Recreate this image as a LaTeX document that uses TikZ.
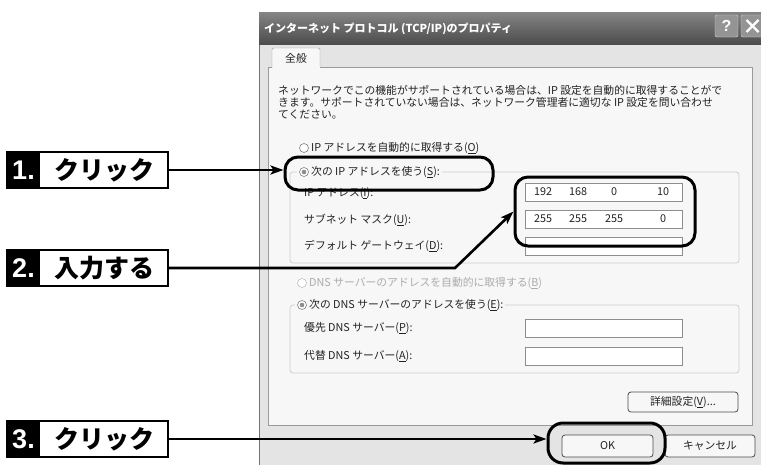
\documentclass[tikz,border=0pt]{standalone}
\usepackage{fontspec}
\setmainfont{Noto Sans CJK JP}
\newfontfamily\lat{Liberation Sans}
\usetikzlibrary{arrows.meta,calc}
\definecolor{winbg}{HTML}{E4E4E4}
\definecolor{panelbg}{HTML}{F7F7F7}
\definecolor{framec}{HTML}{9A9A9A}
\definecolor{grp}{HTML}{CFCFCF}
\definecolor{fieldb}{HTML}{8E8E8E}
\definecolor{dtext}{HTML}{222222}
\definecolor{dimtext}{HTML}{ABABAB}
\tikzset{
 dlg/.style={font=\fontsize{10.8}{12}\selectfont, text=dtext, inner sep=0pt},
 lbl/.style={dlg, anchor=west},
 field/.style={draw=fieldb, fill=white, line width=0.8pt, minimum width=157pt, minimum height=18pt, inner sep=0pt},
 btn/.style={dlg, draw=black!70, fill=panelbg, rounded corners=3pt, line width=0.8pt},
 grpbox/.style={draw=grp, rounded corners=3pt, line width=0.8pt},
 radio/.style={circle, draw=black!50, fill=white, minimum size=9pt, inner sep=0pt, line width=0.6pt},
 callout/.style={draw=black, line width=3pt, rounded corners=13pt, inner sep=0pt},
 arr/.style={line width=2.6pt, -{Stealth[length=13pt,width=9pt,inset=3pt]}},
 stepbox/.style={draw=black, line width=2pt, minimum width=161pt, minimum height=36pt, inner sep=0pt,
   path picture={\fill[black] (path picture bounding box.north west) rectangle ([xshift=33pt]path picture bounding box.south west);}},
 stepnum/.style={text=white, font=\lat\bfseries\fontsize{27}{27}\selectfont, inner sep=0pt},
 steptxt/.style={font=\bfseries\fontsize{25}{25}\selectfont, inner sep=0pt},
}
\begin{document}
\begin{tikzpicture}[x=1pt,y=-1pt]
\useasboundingbox (0,0) rectangle (761,464);
\begin{scope}
\clip (0,0) rectangle (761,464);
% window
\fill[winbg] (259,12) rectangle (775,480);
\draw[black!55, line width=1pt] (259,480) -- (259,12);
\shade[top color=black!48, bottom color=black!70] (259,12) rectangle (775,44);
\node[anchor=west, text=white, font=\fontsize{11}{12}\selectfont\bfseries, inner sep=0pt] (title) at (264,29) {インターネット プロトコル (TCP/IP)のプロパティ};
\node[draw=white!85!black, fill=black!42, rounded corners=2pt, minimum width=23pt, minimum height=22pt, text=white, font=\lat\bfseries\fontsize{16}{16}\selectfont, inner sep=0pt] (help) at (726.5,26) {?};
\node[draw=white!85!black, fill=black!42, rounded corners=2pt, minimum width=23pt, minimum height=22pt, inner sep=0pt] (close) at (752.5,26) {};
\draw[white, line width=2.4pt] ($(close.center)+(-6,-6)$) -- ($(close.center)+(6,6)$);
\draw[white, line width=2.4pt] ($(close.center)+(-6,6)$) -- ($(close.center)+(6,-6)$);
% panel and tab
\draw[framec, fill=panelbg] (268,67) rectangle (752,425);
\draw[framec, fill=panelbg, rounded corners=2pt] (272,68) -- (272,48) -- (320,48) -- (320,68);
\fill[panelbg] (272.5,66) rectangle (319.5,69);
\node[dlg] (tab) at (296,58) {全般};
% paragraph
\node[lbl] (p1) at (278,90) {ネットワークでこの機能がサポートされている場合は、IP 設定を自動的に取得することがで};
\node[lbl] (p2) at (278,102.5) {きます。サポートされていない場合は、ネットワーク管理者に適切な IP 設定を問い合わせ};
\node[lbl] (p3) at (278,115) {てください。};
% IP group
\node[radio] (r1) at (304,148) {};
\node[lbl] (r1t) at (311,148) {IP アドレスを自動的に取得する(\underline{O})};
\draw[grpbox] (290,172) rectangle (739,263);
\fill[panelbg] (297,165) rectangle (309,179);
\node[radio] (r2) at (304,172) {};
\fill[black!45] (r2) circle (2.3pt);
\node[lbl, fill=panelbg, inner xsep=2pt] (r2t) at (309,172) {次の IP アドレスを使う(\underline{S}):};
\node[lbl] (ipl) at (304,193) {IP アドレス(\underline{I}):};
\node[lbl] (sml) at (304,220) {サブネット マスク(\underline{U}):};
\node[lbl] (gwl) at (304,246) {デフォルト ゲートウェイ(\underline{D}):};
\node[field] (f1) at (603.5,192) {};
\node[field] (f2) at (603.5,219) {};
\node[field] (f3) at (603.5,246) {};
\node[dlg] (a1) at (543,192) {192};
\node[dlg] (a2) at (578,192) {168};
\node[dlg] (a3) at (614,192) {0};
\node[dlg] (a4) at (663,192) {10};
\node[dlg] (m1) at (543,219) {255};
\node[dlg] (m2) at (578,219) {255};
\node[dlg] (m3) at (614,219) {255};
\node[dlg] (m4) at (663,219) {0};
% DNS group
\node[radio, draw=black!25] (r3) at (302,283) {};
\node[lbl, text=dimtext] (r3t) at (309,283) {DNS サーバーのアドレスを自動的に取得する(\underline{B})};
\draw[grpbox] (290,305) rectangle (739,373);
\fill[panelbg] (295,298) rectangle (307,312);
\node[radio] (r4) at (302,305) {};
\fill[black!45] (r4) circle (2.3pt);
\node[lbl, fill=panelbg, inner xsep=2pt] (r4t) at (307,305) {次の DNS サーバーのアドレスを使う(\underline{E}):};
\node[lbl] (d1l) at (304,328) {優先 DNS サーバー(\underline{P}):};
\node[lbl] (d2l) at (304,356) {代替 DNS サーバー(\underline{A}):};
\node[field] (f4) at (603.5,328) {};
\node[field] (f5) at (603.5,356) {};
% buttons
\node[btn, minimum width=110pt, minimum height=20pt] (adv) at (683,402) {詳細設定(\underline{V})...};
\node[btn, minimum width=91pt, minimum height=22pt] (ok) at (607.5,446) {OK};
\node[btn, minimum width=90pt, minimum height=22pt] (cancel) at (710,446) {キャンセル};
% callouts
\node[callout, minimum width=208pt, minimum height=33pt] (c1) at (389,173.5) {};
\node[callout, minimum width=180pt, minimum height=69pt] (c2) at (605,211.5) {};
\node[callout, minimum width=117pt, minimum height=40pt, rounded corners=15pt] (c3) at (606.5,443) {};
\end{scope}
% step labels
\node[stepbox] (box1) at (87.5,170) {};
\node[stepnum] (n1) at (23.5,170) {1.};
\node[steptxt] (t1) at (104,170) {クリック};
\node[stepbox] (box2) at (87.5,268) {};
\node[stepnum] (n2) at (23.5,268) {2.};
\node[steptxt] (t2) at (104,268) {入力する};
\node[stepbox] (box3) at (87.5,439) {};
\node[stepnum] (n3) at (23.5,439) {3.};
\node[steptxt] (t3) at (104,439) {クリック};
% arrows
\draw[arr] (box1.east) -- (box1.east -| c1.west);
\coordinate (bend) at (455,268);
\draw[arr, line join=miter] (box2.east) -- (bend) -- (c2.west);
\draw[arr] (box3.east) -- (box3.east -| c3.west);
\end{tikzpicture}
\end{document}
